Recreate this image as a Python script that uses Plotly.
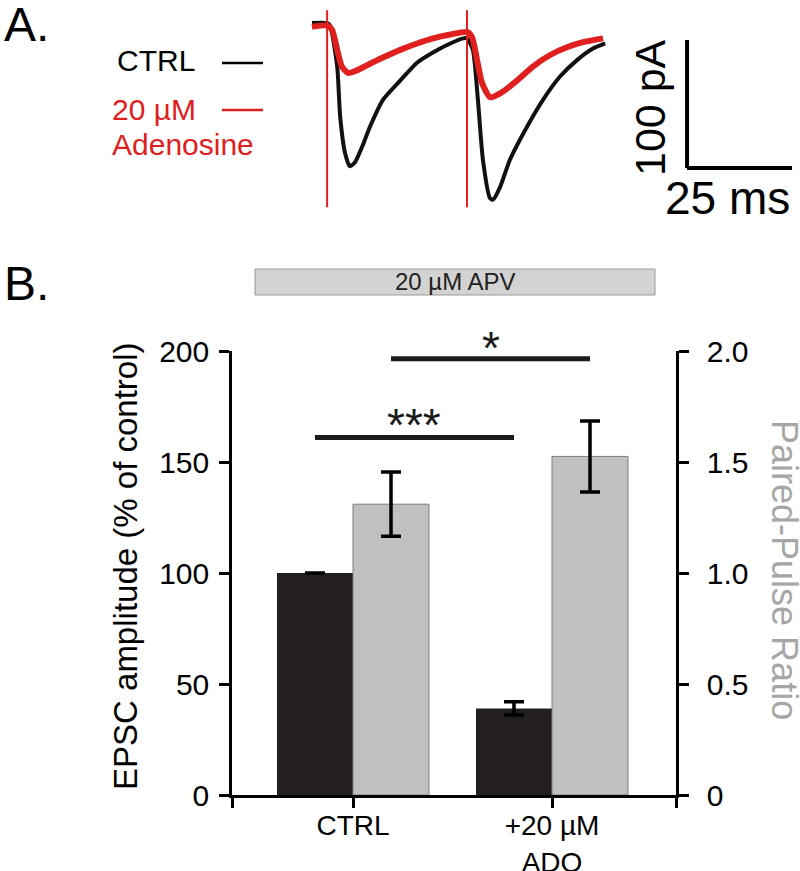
import plotly.graph_objects as go

# ---------------- DATA ----------------
# Panel A: EPSC traces (time in ms, current in pA)
ctrl_t = [0, 3.6, 4.3, 6.0, 6.7, 7.9, 9.0, 10.2, 11.9, 13.8, 16.9, 21.0, 25.0, 28.8, 32.9, 36.0,
          36.9, 38.3, 39.5, 40.7, 42.4, 43.1, 44.8, 47.1, 51.2, 55.0, 59.0, 63.1, 66.9, 69.8]
ctrl_i = [0, 0, -2, -34, -73, -102, -112, -109, -97, -81, -60, -45, -31, -23, -16, -12,
          -12, -21, -60, -107, -137, -138, -128, -107, -81, -60, -42, -29, -20, -16]
ado_t = [0, 3.6, 4.8, 6.0, 7.1, 8.6, 10.7, 13.1, 16.9, 21.0, 25.0, 28.8, 32.9, 36.9,
         38.1, 39.3, 40.5, 42.4, 44.8, 48.8, 52.6, 56.7, 60.7, 64.5, 69.3]
ado_i = [-3, -2, -5.5, -21, -34, -39, -37, -33, -27, -21, -16, -12, -9, -7,
         -11, -29, -47, -58, -55, -45, -34, -25, -19, -15, -12]
stim_times = [3.6, 36.9]          # stimulus artefacts (ms)
artifact_range = [10, -144]       # artefact extent (pA)
scale_ms = 25
scale_pa = 100

# Panel B: bar chart
categories = ["CTRL", "+20 µM<br>ADO"]
epsc_amp = [100, 39]              # % of control
epsc_err = [0, 3]
ppr = [1.31, 1.525]               # paired-pulse ratio
ppr_err = [0.145, 0.16]
left_ticks = [0, 50, 100, 150, 200]
right_ticks = [0, 0.5, 1.0, 1.5, 2.0]
right_ticktext = ["0", "0.5", "1.0", "1.5", "2.0"]

# ---------------- LAYOUT HELPERS ----------------
W, H = 800, 871
def px(x): return x / W
def py(y): return 1 - y / H

FONT = "Liberation Sans, Arial, sans-serif"
BLACK_BAR = "#231f20"
GRAY_BAR = "#c0c0c0"
RED = "#e0201e"

BAR_W = 0.382
cat_pos = list(range(len(categories)))

Y_TOP_PX, Y_BOT_PX = 351, 795
Y_MAX = 200
def left_to_paper(v):
    return py(Y_BOT_PX) + (py(Y_TOP_PX) - py(Y_BOT_PX)) * v / Y_MAX

fig = go.Figure()

# ---- Panel B bars ----
fig.add_trace(go.Bar(
    x=cat_pos, y=epsc_amp, width=BAR_W, offset=-BAR_W,
    marker=dict(color=BLACK_BAR, line=dict(width=0)),
    error_y=dict(type="data", array=epsc_err, color="black", thickness=3.5, width=10),
    xaxis="x", yaxis="y", showlegend=False))
fig.add_trace(go.Bar(
    x=cat_pos, y=ppr, width=BAR_W, offset=0,
    marker=dict(color=GRAY_BAR, line=dict(width=1, color="#7f7f7f")),
    error_y=dict(type="data", array=ppr_err, color="black", thickness=3.5, width=10),
    xaxis="x", yaxis="y2", showlegend=False))

# ---- Panel A traces ----
fig.add_trace(go.Scatter(x=ctrl_t, y=ctrl_i, mode="lines",
                         line=dict(color="#111111", width=4, shape="spline", smoothing=0.6),
                         xaxis="x2", yaxis="y3", showlegend=False))
fig.add_trace(go.Scatter(x=ado_t, y=ado_i, mode="lines",
                         line=dict(color=RED, width=6, shape="spline", smoothing=0.6),
                         xaxis="x2", yaxis="y3", showlegend=False))

shapes = []
for st in stim_times:
    shapes.append(dict(type="line", xref="x2", yref="y3", x0=st, x1=st,
                       y0=artifact_range[0], y1=artifact_range[1],
                       line=dict(color=RED, width=2)))
# scale bar
sb_x0, sb_y0 = 89.3, -113.3
shapes.append(dict(type="line", xref="x2", yref="y3", x0=sb_x0, x1=sb_x0 + scale_ms,
                   y0=sb_y0, y1=sb_y0, line=dict(color="black", width=4)))
shapes.append(dict(type="line", xref="x2", yref="y3", x0=sb_x0, x1=sb_x0,
                   y0=sb_y0, y1=sb_y0 + scale_pa, line=dict(color="black", width=4)))

# legend lines in panel A
shapes.append(dict(type="line", xref="paper", yref="paper", x0=px(222), x1=px(263),
                   y0=py(63), y1=py(63), line=dict(color="black", width=2.5)))
shapes.append(dict(type="line", xref="paper", yref="paper", x0=px(222), x1=px(263),
                   y0=py(110), y1=py(110), line=dict(color=RED, width=2.5)))

# APV bar
shapes.append(dict(type="rect", xref="paper", yref="paper", x0=px(255), x1=px(655),
                   y0=py(295), y1=py(269), fillcolor="#d3d3d3",
                   line=dict(color="#9a9a9a", width=1)))

# significance lines (from bar centres)
black_c = [c - BAR_W / 2 for c in cat_pos]
gray_c = [c + BAR_W / 2 for c in cat_pos]
sig = [("***", black_c[0], black_c[1], 161, 166.5), ("*", gray_c[0], gray_c[1], 196.5, 201.5)]
annotations = []
for txt, xa, xb, yl, yt in sig:
    shapes.append(dict(type="line", xref="x", yref="y", x0=xa, x1=xb, y0=yl, y1=yl,
                       line=dict(color="#1a1a1a", width=5)))
    annotations.append(dict(text=txt, x=(xa + xb) / 2, y=left_to_paper(yt), xref="x", yref="paper",
                            showarrow=False, font=dict(size=46, color="#1a1a1a", family=FONT),
                            yanchor="middle"))

def ann(text, x, y, size, color="black", xanchor="center", yanchor="middle", angle=0):
    annotations.append(dict(text=text, x=px(x), y=py(y), xref="paper", yref="paper",
                            showarrow=False, textangle=angle, xanchor=xanchor, yanchor=yanchor,
                            font=dict(size=size, color=color, family=FONT)))

ann("A.", 2, 25, 48, xanchor="left")
ann("B.", 2, 283, 48, xanchor="left")
ann("CTRL", 115, 61, 30, xanchor="left")
ann("20 µM", 110, 110, 30, color=RED, xanchor="left")
ann("Adenosine", 110, 144, 30, color=RED, xanchor="left")
ann("100 pA", 650, 108, 43, angle=-90)
ann("25 ms", 727, 198, 46)
ann("20 µM APV", 455, 282, 24, color="#222222")
ann("EPSC amplitude (% of control)", 125, 566, 33, angle=-90)
ann("Paired-Pulse Ratio", 785, 570, 36, color="#a6a6a6", angle=90)

# ---------------- AXES ----------------
x_lo = (232 - 353) / 199
x_hi = 1 + (676 - 552) / 199
AX = dict(showgrid=False, zeroline=False, linecolor="black", linewidth=2.5,
          ticks="outside", ticklen=10, tickwidth=2.5, tickcolor="black", automargin=False,
          tickfont=dict(size=30, family=FONT, color="black"))

fig.update_layout(
    template="none",
    width=W, height=H, margin=dict(l=0, r=0, t=0, b=0, pad=0),
    paper_bgcolor="white", plot_bgcolor="rgba(0,0,0,0)",
    barmode="overlay",
    xaxis=dict(domain=[px(232), px(676)], range=[x_lo, x_hi], showline=True,
               tickvals=[x_lo] + cat_pos + [x_hi], ticktext=[""] + categories + [""],
               anchor="y", ticklabelstandoff=-6,
               **{**AX, "tickfont": dict(size=28, family=FONT, color="black")}),
    yaxis=dict(domain=[py(Y_BOT_PX), py(Y_TOP_PX)], range=[0, Y_MAX], tickvals=left_ticks,
               showline=True, anchor="x", ticklabelstandoff=4, **AX),
    yaxis2=dict(domain=[py(Y_BOT_PX), py(Y_TOP_PX)], range=[0, 2], tickvals=right_ticks,
                ticktext=right_ticktext, overlaying="y", side="right", showline=True,
                anchor="x", ticklabelstandoff=12, **AX),
    xaxis2=dict(domain=[px(300), 1], range=[(300 - 312) / 4.2, (800 - 312) / 4.2],
                visible=False, anchor="y3", automargin=False),
    yaxis3=dict(domain=[py(215), 1], range=[-(215 - 23) / 1.28, 23 / 1.28],
                visible=False, anchor="x2", automargin=False),
    shapes=shapes, annotations=annotations,
)

fig.write_html("out.html", config={"displayModeBar": False},
               post_script="document.body.style.margin='0';")
